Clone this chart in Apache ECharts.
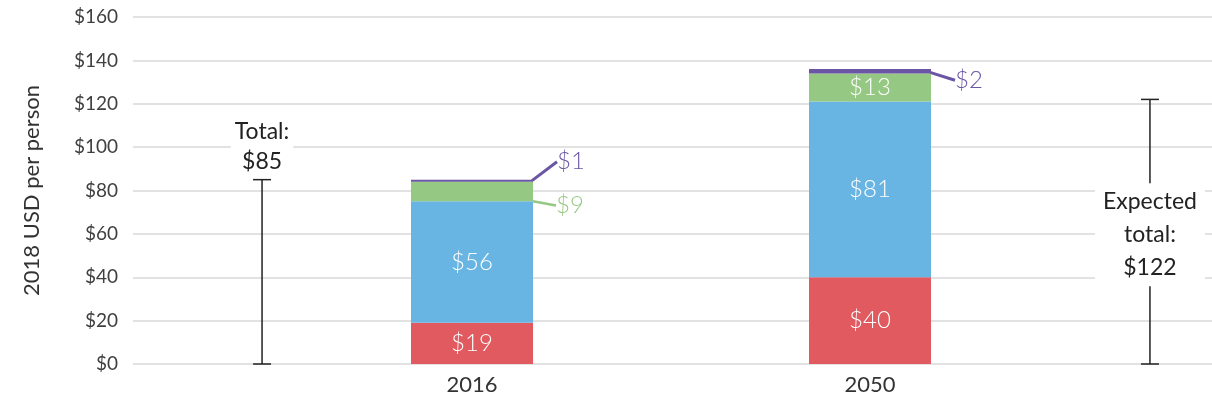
<!DOCTYPE html>
<html>
<head>
<meta charset="utf-8">
<script src="https://cdn.jsdelivr.net/npm/echarts@6/dist/echarts.min.js"></script>
<style>
  html, body { margin: 0; padding: 0; background: #fff; }
  #chart { width: 1212px; height: 405px; }
</style>
</head>
<body>
<div id="chart"></div>
<script>
// data
const years = ["2016", "2050"];
const redVals = [19, 40];
const blueVals = [56, 81];
const greenVals = [9, 13];
const purpleVals = [1, 2];
const totals = [85, 122];
const totalTexts = ["Total:\n$85", "Expected\ntotal:\n$122"];
const yMin = 0, yMax = 160, yStep = 20;

const FONT = "Lato, 'Noto Sans', sans-serif";
const W = 300;   // light weight for the labels on/next to bars
const WD = 400;  // dark text
const RED = "#e05a60", BLUE = "#68b5e3", GREEN = "#95c882", PURPLE = "#6a56a5";

// where the brackets sit on the full-width grid (0..1)
const bracketX = [0.1196, 0.9425];

const chart = echarts.init(document.getElementById("chart"));

function money(v) { return "$" + v; }

const option = {
  animation: false,
  textStyle: { fontFamily: FONT, fontWeight: W },
  grid: [
    { left: 133, right: 0, top: 17, bottom: 41 },   // gridlines + brackets
    { left: 273, right: 143, top: 17, bottom: 41 }  // bars
  ],
  xAxis: [
    { gridIndex: 0, type: "value", min: 0, max: 1, show: false },
    {
      gridIndex: 1, type: "category", data: years,
      axisLine: { show: false }, axisTick: { show: false },
      axisLabel: { color: "#333", fontSize: 22, margin: 10, fontFamily: FONT, fontWeight: WD }
    }
  ],
  yAxis: [
    {
      gridIndex: 0, type: "value", min: yMin, max: yMax, interval: yStep,
      name: "2018 USD per person", nameLocation: "middle", nameGap: 90,
      nameTextStyle: { color: "#333", fontSize: 22, fontFamily: FONT, fontWeight: WD },
      axisLine: { show: false }, axisTick: { show: false },
      axisLabel: { color: "#404040", fontSize: 19, margin: 15, fontFamily: FONT, fontWeight: WD, formatter: money },
      splitLine: { lineStyle: { color: "#d9d9d9", width: 1.5 } }
    },
    { gridIndex: 1, type: "value", min: yMin, max: yMax, interval: yStep, show: false, splitLine: { show: false } }
  ],
  series: [
    {
      name: "red", type: "bar", stack: "t", xAxisIndex: 1, yAxisIndex: 1,
      barWidth: 122, data: redVals, itemStyle: { color: RED },
      label: { show: true, position: "inside", color: "#fff", fontSize: 24, fontWeight: W, formatter: p => money(p.value) }
    },
    {
      name: "blue", type: "bar", stack: "t", xAxisIndex: 1, yAxisIndex: 1,
      barWidth: 122, data: blueVals, itemStyle: { color: BLUE },
      label: { show: true, position: "inside", color: "#fff", fontSize: 24, fontWeight: W, formatter: p => money(p.value) }
    },
    {
      name: "green", type: "bar", stack: "t", xAxisIndex: 1, yAxisIndex: 1,
      barWidth: 122, itemStyle: { color: GREEN },
      data: greenVals.map((v, i) => i === 0
        ? { value: v, label: { position: "right", color: GREEN, padding: [0, 0, 0, 5] }, labelLine: { show: true } }
        : { value: v, label: { position: "inside", color: "#fff" }, labelLine: { show: false } }),
      label: { show: true, fontSize: 24, fontWeight: W, formatter: p => money(p.value) },
      labelLine: { show: true, lineStyle: { color: GREEN, width: 2.5 } },
      labelLayout: p => p.dataIndex === 0 ? { dx: 13, dy: 14 } : {}
    },
    {
      name: "purple", type: "bar", stack: "t", xAxisIndex: 1, yAxisIndex: 1,
      barWidth: 120, data: purpleVals,
      itemStyle: { color: PURPLE, borderColor: PURPLE, borderWidth: 2 },
      label: {
        show: true, position: "right", color: PURPLE, fontSize: 24, fontWeight: W, padding: [0, 0, 0, 5],
        formatter: p => money(p.value)
      },
      labelLine: { show: true, lineStyle: { color: PURPLE, width: 3 } },
      labelLayout: p => p.dataIndex === 0 ? { dx: 14, dy: -19 } : { dx: 14, dy: 9 }
    },
    {
      name: "brackets", type: "custom", xAxisIndex: 0, yAxisIndex: 0,
      data: totals.map((t, i) => [bracketX[i], t, i]),
      renderItem: function (params, api) {
        const x = api.value(0), t = api.value(1), i = api.value(2);
        const p0 = api.coord([x, 0]), p1 = api.coord([x, t]);
        const cap = 9;
        const stroke = { stroke: "#222", lineWidth: 1.5 };
        const kids = [
          { type: "line", shape: { x1: p0[0], y1: p0[1], x2: p1[0], y2: p1[1] }, style: stroke },
          { type: "line", shape: { x1: p0[0] - cap, y1: p0[1], x2: p0[0] + cap, y2: p0[1] }, style: stroke },
          { type: "line", shape: { x1: p1[0] - cap, y1: p1[1], x2: p1[0] + cap, y2: p1[1] }, style: stroke }
        ];
        if (i === 0) {
          kids.push({
            type: "text", z2: 10,
            style: {
              text: totalTexts[i], x: p1[0], y: p1[1] - 3, align: "center", verticalAlign: "bottom",
              fontSize: 23, fontFamily: FONT, fontWeight: WD, fill: "#222", lineHeight: 30,
              backgroundColor: "#fff", padding: [0, 4]
            }
          });
        } else {
          kids.push({
            type: "text", z2: 10,
            style: {
              text: totalTexts[i], x: p0[0], y: (p0[1] + p1[1]) / 2 + 3, align: "center", verticalAlign: "middle",
              fontSize: 23, fontFamily: FONT, fontWeight: WD, fill: "#222", lineHeight: 33,
              backgroundColor: "#fff", padding: [2, 8]
            }
          });
        }
        return { type: "group", children: kids };
      }
    }
  ]
};

chart.setOption(option);
</script>
</body>
</html>
